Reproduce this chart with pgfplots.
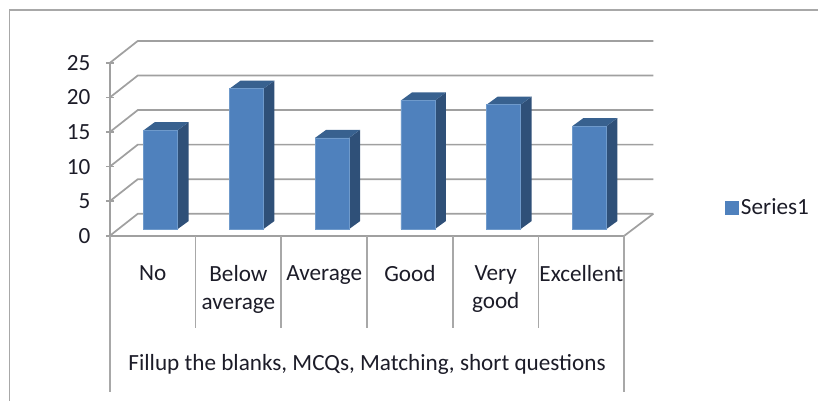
\documentclass[border=0pt]{standalone}
\usepackage{fontspec}
\setmainfont{Carlito}
\usepackage{pgfplots}
\pgfplotsset{compat=1.18}
\definecolor{barfront}{HTML}{4F81BD}
\definecolor{barside}{HTML}{2F5078}
\definecolor{bartop}{HTML}{38618F}
\definecolor{baredge}{HTML}{6F9ACB}
\definecolor{gridgray}{HTML}{A0A0A0}
\definecolor{framegray}{HTML}{A8A8A8}
\definecolor{txt}{HTML}{1C1C28}
\newcommand{\lab}{\fontsize{17.4}{21}\selectfont}
% depth faces of one bar: #1 category position, #2 value
\newcommand{\barfaces}[2]{%
  \addplot[forget plot,draw=none,fill=barside] coordinates {({#1+0.198},0) ({#1+0.326},1.156) ({#1+0.326},{#2+1.156}) ({#1+0.198},#2)} -- cycle;
  \addplot[forget plot,draw=none,fill=bartop] coordinates {({#1-0.198},#2) ({#1-0.070},{#2+1.156}) ({#1+0.326},{#2+1.156}) ({#1+0.198},#2)} -- cycle;
}
\begin{document}
\begin{tikzpicture}
\begin{axis}[
  scale only axis, width=386.25pt, height=129.75pt,
  xmin=-0.5, xmax=5.5, ymin=0, ymax=25,
  clip=false,
  axis x line=bottom, axis y line=left,
  axis line style={-, draw=gridgray, line width=1.3pt},
  xtick={0,1,2,3,4,5},
  xticklabels={No,Below\\average,Average,Good,Very\\good,Excellent},
  ytick={0,5,10,15,20,25},
  major tick length=6pt,
  x tick style={draw=none},
  y tick style={draw=gridgray, line width=1.2pt},
  /pgf/number format/assume math mode=true,
  xticklabel style={font=\lab, text=txt, align=center, anchor=north, yshift=-15.8pt},
  yticklabel style={font=\lab, text=txt, xshift=-8pt},
  xlabel={Fillup the blanks, MCQs, Matching, short questions},
  xlabel style={font=\lab, text=txt, at={(axis description cs:0.5,-0.746)}, anchor=center},
]
% picture extent
\path (axis cs:-1.781,-23.84) rectangle (axis cs:7.76,34.1);
% outer frame
\addplot[framegray, line width=1.3pt] coordinates {(-1.671,-23.84) (-1.671,32.66) (7.76,32.66)};
% back wall and side wall gridlines
\pgfplotsinvokeforeach{5,10,15,20,25,0}{
  \addplot[gridgray, line width=1.3pt] coordinates {(-0.5,#1) (-0.174,{#1+3.18}) (5.838,{#1+3.18})};
}
% floor edge
\addplot[gridgray, line width=1.3pt] coordinates {(5.5,0) (5.838,3.18)};
% category separators
\pgfplotsinvokeforeach{0.5,1.5,2.5,3.5,4.5}{
  \addplot[framegray, line width=1.3pt] coordinates {(#1,0) (#1,-13.3)};
}
\addplot[framegray, line width=1.3pt] coordinates {(-0.5,0) (-0.5,-22.54)};
\addplot[framegray, line width=1.3pt] coordinates {(5.5,0) (5.5,-22.54)};
\end{axis}
\begin{axis}[
  scale only axis, width=386.25pt, height=129.75pt,
  xmin=-0.593, xmax=5.407, ymin=-0.968, ymax=24.032,
  clip=false, hide axis,
  legend style={at={(1.188,0.162)}, anchor=west, draw=none, fill=none, font=\lab, text=txt,
    legend cell align=left},
  legend image code/.code={\fill[barfront] (0pt,-4.6pt) rectangle (9.4pt,4.6pt);},
]
\barfaces{0}{14.3}
\barfaces{1}{20.3}
\barfaces{2}{13.2}
\barfaces{3}{18.6}
\barfaces{4}{18.0}
\barfaces{5}{14.9}
\addplot[ybar, bar width=25.5pt, bar shift=0pt, fill=barfront, draw=baredge, line width=0.35pt]
  coordinates {(0,14.3) (1,20.3) (2,13.2) (3,18.6) (4,18.0) (5,14.9)};
\addlegendentry{Series1}
\end{axis}
\end{tikzpicture}
\end{document}
